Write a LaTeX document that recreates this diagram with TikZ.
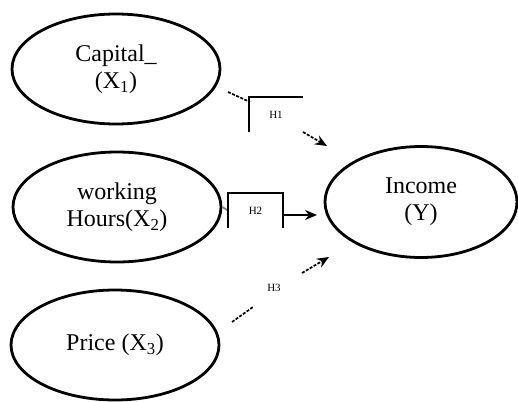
\documentclass[tikz,border=0pt]{standalone}
\usepackage{fontspec}
\setmainfont{Liberation Serif}
\usetikzlibrary{shapes, arrows.meta, positioning, calc}

\begin{document}
\begin{tikzpicture}[
    x=1pt, y=-1pt,
    every node/.style={align=center},
    var/.style={draw, ellipse, line width=2.8pt, minimum width=208pt, minimum height=110pt,
      inner sep=0pt, font=\fontsize{24}{27}\selectfont},
    hyp/.style={inner sep=0pt, minimum width=53pt, minimum height=35pt, font=\fontsize{11}{12}\selectfont},
    link/.style={line width=1.7pt},
    brk/.style={link, dash pattern=on 3pt off 1.5pt},
    tip/.style={-{Stealth[length=12pt, width=10pt]}}
  ]
  \useasboundingbox (0,0) rectangle (518,401);

  % variables
  \node[var] (cap) at (116,69) {Capital\_\\(X\textsubscript{1})};
  \node[var] (hrs) at (117,207) {working\\Hours(X\textsubscript{2})};
  \node[var] (price) at (115,345) {Price (X\textsubscript{3})};
  \node[var, minimum width=192pt, minimum height=111pt] (inc) at (421,202) {Income\\(Y)};

  % hypotheses
  \node[hyp] (h1) at (276,114.5) {H1};
  \node[hyp, minimum width=55pt] (h2) at (255.5,210.5) {H2};
  \node[hyp] (h3) at (274,288) {H3};

  \coordinate (s1) at (228,92);
  \coordinate (e1) at (250,102);
  \coordinate (a1) at (303,132);
  \coordinate (t1) at (327,146);
  \coordinate (a2) at (283,215);
  \coordinate (t2) at (317,215);
  \coordinate (s3) at (232,322);
  \coordinate (e3) at (253,307);
  \coordinate (a3) at (302,273);
  \coordinate (t3) at (329,257);

  % H1
  \draw[brk] (s1) -- (e1);
  \draw[link] (h1.south west) -- (h1.north west) -- (h1.north east);
  \draw[brk, tip] (a1) -- (t1);
  % H2
  \draw[link, gray] (hrs.east) -- (h2.west);
  \draw[link] (h2.south west) -- (h2.north west) -- (h2.north east) -- (h2.south east);
  \draw[link, tip] (a2) -- (t2);
  % H3
  \draw[brk] (s3) -- (e3);
  \draw[brk, tip] (a3) -- (t3);
\end{tikzpicture}
\end{document}
